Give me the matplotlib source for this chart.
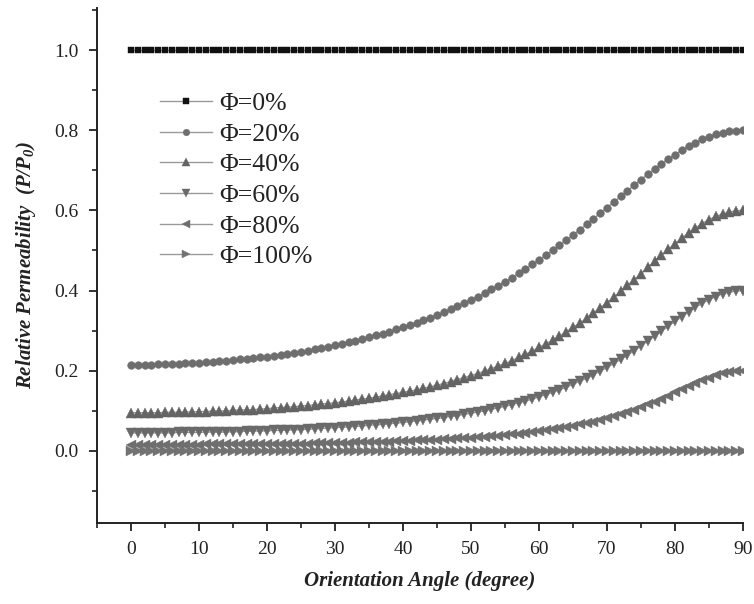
import matplotlib
matplotlib.use("Agg")
import matplotlib.pyplot as plt
from matplotlib.ticker import MultipleLocator

plt.rcParams['font.family'] = ['Liberation Serif', 'DejaVu Serif']
plt.rcParams['mathtext.fontset'] = 'custom'
plt.rcParams['mathtext.it'] = 'Liberation Serif:bold:italic'
plt.rcParams['mathtext.rm'] = 'Liberation Serif:bold:italic'

angles = list(range(0, 91))

phi_0 = [1.0] * 91

phi_20 = [0.215, 0.215, 0.215, 0.215, 0.216, 0.216, 0.217, 0.217, 0.218, 0.219,
          0.220, 0.221, 0.222, 0.223, 0.225, 0.226, 0.228, 0.229, 0.231, 0.233,
          0.235, 0.237, 0.240, 0.242, 0.245, 0.247, 0.250, 0.253, 0.256, 0.260,
          0.263, 0.267, 0.271, 0.275, 0.279, 0.283, 0.288, 0.292, 0.297, 0.303,
          0.308, 0.314, 0.320, 0.326, 0.332, 0.339, 0.346, 0.353, 0.361, 0.369,
          0.377, 0.385, 0.394, 0.403, 0.412, 0.422, 0.432, 0.443, 0.454, 0.465,
          0.476, 0.488, 0.500, 0.513, 0.525, 0.538, 0.552, 0.565, 0.579, 0.593,
          0.607, 0.621, 0.635, 0.649, 0.663, 0.677, 0.690, 0.703, 0.716, 0.728,
          0.739, 0.750, 0.760, 0.769, 0.777, 0.784, 0.790, 0.794, 0.797, 0.799,
          0.800]

phi_40 = [0.095, 0.095, 0.095, 0.095, 0.095, 0.096, 0.096, 0.096, 0.097, 0.097,
          0.098, 0.098, 0.099, 0.099, 0.100, 0.101, 0.102, 0.102, 0.103, 0.104,
          0.105, 0.107, 0.108, 0.109, 0.110, 0.112, 0.113, 0.115, 0.117, 0.118,
          0.120, 0.122, 0.124, 0.127, 0.129, 0.131, 0.134, 0.137, 0.140, 0.143,
          0.146, 0.149, 0.152, 0.156, 0.160, 0.164, 0.168, 0.173, 0.178, 0.183,
          0.188, 0.193, 0.199, 0.205, 0.212, 0.218, 0.225, 0.233, 0.241, 0.249,
          0.258, 0.267, 0.276, 0.286, 0.297, 0.308, 0.319, 0.331, 0.344, 0.357,
          0.370, 0.384, 0.398, 0.413, 0.427, 0.442, 0.458, 0.473, 0.488, 0.503,
          0.517, 0.531, 0.544, 0.556, 0.567, 0.577, 0.585, 0.591, 0.596, 0.599,
          0.600]

phi_60 = [0.045, 0.045, 0.045, 0.045, 0.045, 0.045, 0.045, 0.046, 0.046, 0.046,
          0.046, 0.047, 0.047, 0.047, 0.047, 0.048, 0.048, 0.049, 0.049, 0.050,
          0.050, 0.051, 0.051, 0.052, 0.053, 0.053, 0.054, 0.055, 0.056, 0.057,
          0.058, 0.059, 0.060, 0.061, 0.062, 0.064, 0.065, 0.066, 0.068, 0.069,
          0.071, 0.073, 0.075, 0.077, 0.079, 0.081, 0.083, 0.086, 0.088, 0.091,
          0.094, 0.097, 0.100, 0.104, 0.107, 0.111, 0.115, 0.120, 0.124, 0.129,
          0.135, 0.140, 0.146, 0.152, 0.159, 0.166, 0.174, 0.181, 0.190, 0.199,
          0.208, 0.218, 0.228, 0.239, 0.250, 0.262, 0.274, 0.286, 0.298, 0.311,
          0.323, 0.335, 0.347, 0.358, 0.368, 0.377, 0.385, 0.392, 0.396, 0.399,
          0.400]

phi_80 = [0.015, 0.015, 0.015, 0.015, 0.015, 0.015, 0.015, 0.015, 0.015, 0.015,
          0.015, 0.016, 0.016, 0.016, 0.016, 0.016, 0.016, 0.016, 0.016, 0.017,
          0.017, 0.017, 0.017, 0.017, 0.018, 0.018, 0.018, 0.019, 0.019, 0.019,
          0.020, 0.020, 0.020, 0.021, 0.021, 0.022, 0.022, 0.023, 0.023, 0.024,
          0.024, 0.025, 0.026, 0.026, 0.027, 0.028, 0.029, 0.030, 0.031, 0.032,
          0.033, 0.034, 0.035, 0.037, 0.038, 0.040, 0.041, 0.043, 0.045, 0.047,
          0.049, 0.051, 0.054, 0.056, 0.059, 0.062, 0.066, 0.069, 0.073, 0.077,
          0.082, 0.087, 0.092, 0.097, 0.103, 0.110, 0.116, 0.123, 0.130, 0.138,
          0.146, 0.154, 0.161, 0.169, 0.176, 0.183, 0.189, 0.194, 0.197, 0.199,
          0.200]

phi_100 = [0.0] * 91

labels = ['Φ=0%', 'Φ=20%', 'Φ=40%', 'Φ=60%', 'Φ=80%', 'Φ=100%']
series = [phi_0, phi_20, phi_40, phi_60, phi_80, phi_100]
markers = ['s', 'o', '^', 'v', '<', '>']
msizes = [5.0, 5.6, 6.8, 6.8, 6.8, 6.8]
mcolors = ['#111111', '#6e6e6e', '#646464', '#6a6a6a', '#6e6e6e', '#727272']

fig = plt.figure(figsize=(7.54, 6.04), dpi=100)
ax = fig.add_axes([97 / 754, 81 / 604, 646 / 754, 515 / 604])

for y, lab, m, ms, mc in zip(series, labels, markers, msizes, mcolors):
    ax.plot(angles, y, color='#9a9a9a', lw=1.0, marker=m, markersize=ms,
            markerfacecolor=mc, markeredgecolor=mc, markeredgewidth=0.3,
            label=lab)

ax.set_xlim(-5, 90)
ax.set_ylim(-0.18, 1.105)
ax.xaxis.set_minor_locator(MultipleLocator(5))
ax.yaxis.set_minor_locator(MultipleLocator(0.1))
ax.set_xticks(list(range(0, 91, 10)))
ax.set_yticks([0.0, 0.2, 0.4, 0.6, 0.8, 1.0])
ax.set_yticklabels(['0.0', '0.2', '0.4', '0.6', '0.8', '1.0'])

for s in ['top', 'right']:
    ax.spines[s].set_visible(False)
for s in ['left', 'bottom']:
    ax.spines[s].set_linewidth(1.4)
    ax.spines[s].set_color('#222222')

ax.tick_params(which='major', direction='out', length=6, width=1.3,
               labelsize=14, colors='#222222', pad=7)
ax.tick_params(which='minor', direction='out', length=3.5, width=1.2,
               colors='#222222')

ax.set_xlabel('Orientation Angle (degree)', fontsize=15, fontweight='bold',
              fontstyle='italic', labelpad=9, color='#222222')
ax.set_ylabel(r'Relative Permeability  $(P/P_0)$', fontsize=15,
              fontweight='bold', fontstyle='italic', labelpad=12,
              color='#222222')

leg = ax.legend(loc='upper left', bbox_to_anchor=(0.07, 0.872), frameon=False,
                fontsize=18.5, handlelength=2.0, labelspacing=0.3,
                handletextpad=0.3, borderpad=0.2, markerscale=0.85)
for t in leg.get_texts():
    t.set_color('#222222')

fig.savefig('out.png', dpi=100)
